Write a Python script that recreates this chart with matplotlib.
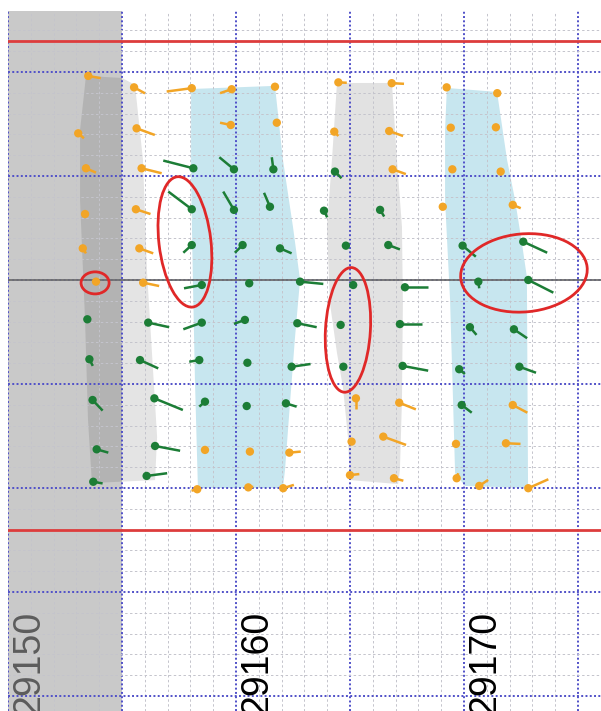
import matplotlib
matplotlib.use("Agg")
import matplotlib.pyplot as plt
from matplotlib.patches import Polygon, Ellipse
from matplotlib.collections import LineCollection
from matplotlib.ticker import MultipleLocator

# ---- measured points: chainage (x), offset (y) and the tail vector (dx, dy) ----
orange_x = [29153.52, 29155.53, 29158.06, 29159.81, 29153.08, 29155.64, 29159.77, 29153.42,
            29155.86, 29153.38, 29155.61, 29153.28, 29155.76, 29161.71, 29164.49, 29166.83,
            29161.79, 29164.31, 29166.72, 29166.87, 29169.24, 29171.46, 29169.42, 29171.40,
            29169.49, 29171.61, 29169.07, 29172.14, 29153.86, 29155.93, 29158.64, 29160.61,
            29158.30, 29160.54, 29165.26, 29167.16, 29162.34, 29165.07, 29166.46, 29162.07,
            29165.00, 29166.93, 29172.14, 29169.65, 29171.84, 29169.68, 29170.67, 29172.82]
orange_y = [9.81, 9.26, 9.22, 9.17, 7.05, 7.29, 7.45, 5.37,
            5.37, 3.17, 3.40, 1.52, 1.52, 9.29, 9.50, 9.46,
            7.56, 7.13, 7.16, 5.32, 9.26, 8.98, 7.32, 7.34,
            5.32, 5.21, 3.52, 3.61, -0.08, -0.13, -8.17, -8.25,
            -10.06, -9.97, -5.69, -5.90, -8.30, -7.77, -7.53, -10.01,
            -9.38, -9.53, -6.01, -7.88, -7.85, -9.53, -9.90, -10.01]
orange_dx = [0.55, 0.48, -1.10, -0.51, 0.25, 0.80, -0.47, 0.44,
             0.88, 0.05, 0.64, 0.14, 0.61, 0.0, 0.37, 0.54,
             0.0, 0.18, 0.61, 0.58, 0.0, 0.0, 0.0, 0.0,
             0.0, 0.0, 0.0, 0.35, 0.05, 0.70, 0.0, 0.0,
             -0.25, 0.22, 0.0, 0.73, 0.50, 0.0, 1.00, 0.47,
             0.41, 0.41, 0.64, 0.0, 0.64, 0.07, 0.39, 0.88]
orange_dy = [-0.11, -0.29, -0.16, -0.19, -0.24, -0.32, 0.11, -0.21,
             -0.24, -0.05, -0.23, -0.24, -0.24, 0.0, -0.02, -0.03,
             0.0, -0.21, -0.24, -0.23, 0.0, 0.0, 0.0, 0.0,
             0.0, 0.0, 0.0, -0.16, -0.05, -0.16, 0.0, 0.0,
             -0.07, 0.03, -0.53, -0.32, 0.05, 0.0, -0.40, 0.16,
             0.05, -0.12, -0.37, 0.0, -0.03, 0.24, 0.29, 0.43]

green_x = [29158.13, 29159.91, 29158.06, 29159.91, 29158.06, 29160.29, 29161.64, 29164.34,
           29161.49, 29163.86, 29166.32, 29161.93, 29164.82, 29166.68, 29169.94, 29172.60,
           29158.50, 29160.58, 29153.48, 29156.15, 29158.50, 29160.39, 29153.57, 29155.79,
           29158.39, 29160.50, 29153.71, 29156.42, 29158.64, 29160.47, 29153.89, 29156.45,
           29153.74, 29156.08, 29162.81, 29165.14, 29167.41, 29162.69, 29164.59, 29167.19,
           29162.44, 29164.71, 29167.31, 29162.19, 29170.63, 29172.82, 29170.26, 29172.19,
           29169.79, 29172.43, 29169.90]
green_y = [5.37, 5.32, 3.40, 3.37, 1.68, 1.68, 5.32, 5.21,
           3.52, 3.33, 3.37, 1.52, 1.65, 1.68, 1.65, 1.84,
           -0.24, -0.16, -1.89, -2.05, -2.05, -1.92, -3.81, -3.85,
           -3.85, -3.98, -5.77, -5.69, -5.85, -6.06, -8.14, -7.98,
           -9.70, -9.42, -0.08, -0.24, -0.35, -2.08, -2.16, -2.12,
           -4.17, -4.17, -4.13, -5.93, -0.08, 0.00, -2.27, -2.37,
           -4.29, -4.17, -6.01]
green_dx = [-1.32, -0.64, -1.03, -0.47, -0.37, -0.34, -0.07, 0.29,
            -0.26, 0.14, 0.18, 0.51, 0.0, 0.51, 0.58, 1.05,
            -0.78, 0.0, 0.0, 0.92, -0.81, -0.48, 0.15, 0.80,
            -0.44, 0.0, 0.44, 1.25, -0.25, 0.0, 0.51, 1.10,
            0.41, 0.90, 1.02, 0.0, 1.02, 0.85, 0.0, 0.95,
            0.83, 0.0, 1.12, 0.47, 0.04, 1.10, 0.29, 0.58,
            0.25, 0.73, 0.44]
green_dy = [0.37, 0.58, 0.85, 0.88, -0.37, -0.37, 0.58, -0.32,
            0.67, -0.32, -0.32, -0.24, 0.0, -0.21, -0.53, -0.53,
            -0.16, 0.0, 0.0, -0.22, -0.32, -0.19, -0.32, -0.40,
            -0.08, 0.0, -0.51, -0.56, -0.24, 0.0, -0.16, -0.23,
            -0.08, 0.13, -0.11, 0.0, 0.0, -0.19, 0.0, 0.0,
            0.13, 0.0, -0.23, -0.16, -0.32, -0.61, -0.37, -0.43,
            -0.23, -0.29, -0.37]

# ---- shaded zones (outlines as chainage / offset pairs) ----
gray_left_x = [29153.42, 29155.00, 29155.57, 29155.92, 29156.10, 29156.54, 29156.45,
               29153.68, 29153.51, 29153.38, 29153.16, 29153.16, 29153.33]
gray_left_y = [9.81, 9.71, 9.38, 5.77, 0.34, -7.55, -9.62,
               -9.76, -6.73, -1.92, 3.85, 7.21, 8.89]
blue_left_x = [29158.03, 29161.71, 29162.06, 29162.50, 29162.81, 29162.59, 29162.37,
               29162.15, 29162.06, 29158.33, 29158.20, 29158.11, 29158.03]
blue_left_y = [9.18, 9.33, 5.77, 2.55, 0.0, -2.74, -5.91,
               -9.13, -10.0, -10.0, -4.81, 0.0, 4.81]
gray_mid_x = [29164.43, 29166.84, 29167.06, 29167.28, 29167.32, 29167.28, 29167.19, 29167.11,
              29165.00, 29164.91, 29164.69, 29164.43, 29164.12, 29163.99, 29164.21]
gray_mid_y = [9.47, 9.47, 5.77, 2.55, -1.11, -5.77, -9.13, -9.81,
              -9.62, -7.55, -5.14, -3.51, -1.11, 2.55, 5.77]
blue_right_x = [29169.25, 29171.45, 29171.89, 29172.24, 29172.54, 29172.76, 29172.81,
                29170.04, 29169.61, 29169.52, 29169.39, 29169.17, 29169.17]
blue_right_y = [9.23, 9.04, 5.77, 3.85, 1.78, 0.14, -10.0,
                -9.90, -9.28, -5.77, -0.96, 3.85, 7.21]

# red limit lines and highlighted areas (centre x, centre y, width, height, angle)
limit_y = [11.5, -12.0]
marks = [(29157.76, 1.83, 2.28, 6.30, 6),
         (29153.82, -0.14, 1.23, 1.06, 0),
         (29164.91, -2.40, 1.97, 6.00, -3),
         (29172.63, 0.34, 5.57, 3.75, 6)]

chainage_labels = [29150, 29160, 29170]
label_colors = ['#5c5c5c', 'black', 'black']

fig = plt.figure(figsize=(6.01, 7.11), dpi=100)
ax = fig.add_axes([8 / 601, 0, 593 / 601, 700 / 711])
ax.set_xlim(29150, 29176.01)
ax.set_ylim(-20.72, 12.93)

for px, py, col in [(gray_left_x, gray_left_y, '#e4e4e4'),
                    (blue_left_x, blue_left_y, '#c7e6ef'),
                    (gray_mid_x, gray_mid_y, '#e2e2e2'),
                    (blue_right_x, blue_right_y, '#c7e6ef')]:
    ax.add_patch(Polygon(list(zip(px, py)), closed=True, facecolor=col,
                         edgecolor='none', zorder=1))

# grey band on the left side
ax.axvspan(29150, 29155, color='black', alpha=0.21, lw=0, zorder=1.5)

# grid: minor every unit, major every 5
ax.xaxis.set_major_locator(MultipleLocator(5))
ax.xaxis.set_minor_locator(MultipleLocator(1))
ax.yaxis.set_major_locator(MultipleLocator(5))
ax.yaxis.set_minor_locator(MultipleLocator(1))
ax.set_axisbelow(False)
ax.grid(which='minor', color='#c4c4cc', linestyle=(0, (2.5, 2.5)), linewidth=0.7)
ax.grid(which='major', color='#5050c8', linestyle=(0, (1, 1.2)), linewidth=1.4)
ax.tick_params(which='both', length=0, labelbottom=False, labelleft=False)
for s in ax.spines.values():
    s.set_visible(False)

ax.axhline(0, color='#6f6f6f', lw=1.3, zorder=3)
for ly in limit_y:
    ax.axhline(ly, color='#dd3c3c', lw=2.0, zorder=3)

# tails then dots
for xs, ys, dxs, dys, col in [(orange_x, orange_y, orange_dx, orange_dy, '#f2a526'),
                              (green_x, green_y, green_dx, green_dy, '#1c7d36')]:
    segs = [[(x, y), (x + dx, y + dy)] for x, y, dx, dy in zip(xs, ys, dxs, dys)]
    ax.add_collection(LineCollection(segs, colors=col, linewidths=1.8, zorder=4))
    ax.scatter(xs, ys, s=36, color=col, edgecolors='none', zorder=5)

for cx, cy, w, h, ang in marks:
    ax.add_patch(Ellipse((cx, cy), w, h, angle=ang, fill=False,
                         edgecolor='#e02828', lw=2.0, zorder=6))

# chainage labels run off the bottom edge, as in the source drawing
for lab, col in zip(chainage_labels, label_colors):
    ax.text(lab + 0.92, -15.9, str(lab), rotation=90, ha='center', va='top',
            fontsize=27, family='Liberation Sans', color=col, zorder=6)

fig.savefig('out.png', dpi=100)
